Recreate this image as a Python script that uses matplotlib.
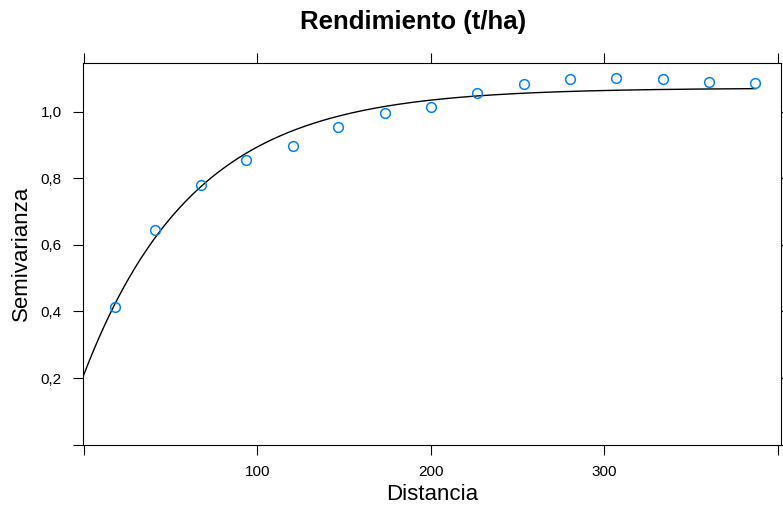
import numpy as np
import matplotlib
matplotlib.use("Agg")
import matplotlib.pyplot as plt

plt.rcParams['font.family'] = ['Liberation Sans', 'DejaVu Sans']

# Empirical semivariogram
dist = [18.0, 41.0, 67.4, 93.7, 120.4, 146.5, 173.6, 200.1, 226.6, 253.7,
        280.2, 306.9, 333.7, 360.3, 387.0]
gamma = [0.412, 0.644, 0.780, 0.855, 0.898, 0.954, 0.996, 1.014, 1.056, 1.084,
         1.098, 1.102, 1.098, 1.090, 1.087]

# Fitted exponential model parameters
nugget = 0.21
psill = 0.861
vrange = 63.2

xticks = [0, 100, 200, 300, 400]
xticklabels = ['', '100', '200', '300', '']
yticks = [0.0, 0.2, 0.4, 0.6, 0.8, 1.0]
yticklabels = ['', '0,2', '0,4', '0,6', '0,8', '1,0']

fig = plt.figure(figsize=(7.83, 5.08), dpi=100)
ax = fig.add_axes([83.3/783, 1 - 444.7/508, (781 - 83.3)/783, (444.7 - 62.7)/508])

h = np.linspace(0, max(dist), 400)
model = nugget + psill * (1 - np.exp(-h / vrange))
ax.plot(h, model, color='black', lw=1.0)
ax.plot(dist, gamma, linestyle='none', marker='o', markersize=7,
        markerfacecolor='none', markeredgecolor='#0080ff', markeredgewidth=1.1)

ax.set_xlim(-0.3, 401.8)
ax.set_ylim(0.0, 1.147)
ax.set_xticks(xticks)
ax.set_xticklabels(xticklabels)
ax.set_yticks(yticks)
ax.set_yticklabels(yticklabels)
ax.tick_params(direction='out', length=7.5, width=0.8, labelsize=11,
               top=True, right=True, labeltop=False, labelright=False,
               colors='black')
ax.tick_params(axis='x', pad=7)
ax.tick_params(axis='y', pad=8)
for s in ax.spines.values():
    s.set_linewidth(0.8)

ax.set_xlabel('Distancia', fontsize=16, labelpad=4)
ax.set_ylabel('Semivarianza', fontsize=16, labelpad=6)
fig.text(413/783, 1 - 22/508, 'Rendimiento (t/ha)', fontsize=18.5,
         fontweight='bold', ha='center', va='center')

fig.savefig('out.png', dpi=100)
